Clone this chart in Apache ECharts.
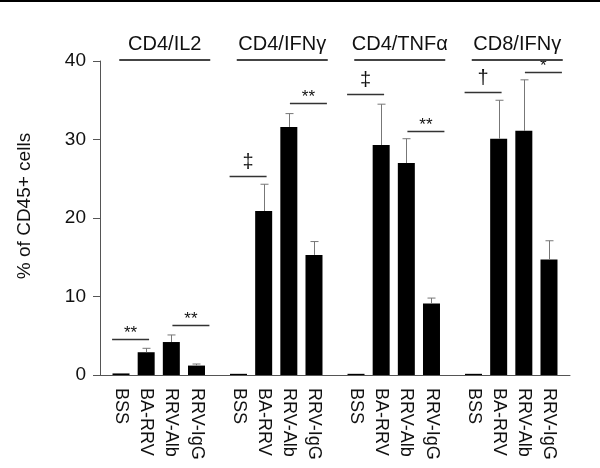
<!DOCTYPE html>
<html><head><meta charset="utf-8">
<script src="https://cdn.jsdelivr.net/npm/echarts@6/dist/echarts.min.js"></script>
<style>html,body{margin:0;padding:0;background:#fff}#c{width:600px;height:468px}</style>
</head><body><div id="c"></div>
<script>
// ---- data ----
const groups = ['CD4/IL2', 'CD4/IFNγ', 'CD4/TNFα', 'CD8/IFNγ'];
const conditions = ['BSS', 'BA-RRV', 'RRV-Alb', 'RRV-IgG'];
const bssMean    = [0.2, 0.15, 0.15, 0.15];
const baRrvMean  = [2.9, 20.9, 29.3, 30.1];
const rrvAlbMean = [4.2, 31.6, 27.0, 31.1];
const rrvIgGMean = [1.2, 15.3, 9.1, 14.7];
const bssErr     = [0, 0, 0, 0];
const baRrvErr   = [0.5, 3.4, 5.2, 4.9];
const rrvAlbErr  = [0.9, 1.7, 3.1, 6.5];
const rrvIgGErr  = [0.2, 1.7, 0.7, 2.4];
const yTicks = [0, 10, 20, 30, 40];
// significance brackets
const sigGroup = [0, 0, 1, 1, 2, 2, 3, 3];
const sigFrom  = [0, 2, 0, 2, 0, 2, 0, 2];
const sigTo    = [1, 3, 1, 3, 1, 3, 1, 3];
const sigLevel = [4.6, 6.4, 25.3, 34.7, 35.8, 31.1, 36.1, 38.6];
const sigMark  = ['**', '**', '‡', '**', '‡', '**', '†', '*'];

// ---- styles / layout ----
const FONT = 'Liberation Sans, Arial, sans-serif';
const BAR_W = 17, BAR_GAP = 0.48;
const BAR_STEP = BAR_W * (1 + BAR_GAP);
const means = [bssMean, baRrvMean, rrvAlbMean, rrvIgGMean];
const errs = [bssErr, baRrvErr, rrvAlbErr, rrvIgGErr];

const barSeries = conditions.map((name, j) => ({
  type: 'bar', name, xAxisIndex: 0, yAxisIndex: 0,
  data: means[j], barWidth: BAR_W, barGap: (BAR_GAP * 100) + '%',
  itemStyle: { color: '#000' },
  label: {
    show: true, position: 'bottom', distance: 13, rotate: -90,
    align: 'left', verticalAlign: 'middle',
    formatter: () => name, fontSize: 18, color: '#111', fontFamily: FONT
  }
}));

const errData = [];
groups.forEach((g, i) => conditions.forEach((c, j) => errData.push([i, j, means[j][i], errs[j][i]])));

const sigData = sigGroup.map((g, k) => [g, sigFrom[k], sigTo[k], sigLevel[k], k]);
const headData = groups.map((g, i) => [i, yTicks[yTicks.length - 1]]);

const option = {
  animation: false,
  backgroundColor: '#fff',
  graphic: [{ type: 'rect', left: 0, top: 0, shape: { width: 600, height: 2 }, style: { fill: '#000' } }],
  grid: { left: 100, right: 30, top: 61, bottom: 93, containLabel: false },
  xAxis: [{
    type: 'category', data: groups, position: 'bottom',
    axisLine: { lineStyle: { color: '#555', width: 1 } },
    axisTick: { alignWithLabel: true, length: 8, lineStyle: { color: '#555' } },
    axisLabel: { show: false }
  }, {
    type: 'category', data: groups, position: 'top',
    axisLine: { show: false }, axisTick: { show: false },
    axisLabel: { interval: 0, margin: 7, fontSize: 20, color: '#111', fontFamily: FONT, padding: [0, 0, 0, 12] }
  }],
  yAxis: {
    type: 'value', min: yTicks[0], max: yTicks[yTicks.length - 1], interval: 10,
    name: '% of CD45+ cells', nameLocation: 'middle', nameGap: 66, nameRotate: 90,
    nameTextStyle: { fontSize: 19, color: '#111', fontFamily: FONT, padding: [0, 0, 0, 24] },
    axisLine: { show: true, lineStyle: { color: '#555', width: 1 } },
    axisTick: { show: true, length: 7, lineStyle: { color: '#555' } },
    axisLabel: { fontSize: 19, color: '#111', fontFamily: FONT, margin: 14 },
    splitLine: { show: false }
  },
  series: barSeries.concat([{
    type: 'custom', xAxisIndex: 0, yAxisIndex: 0, clip: false, z: 5,
    encode: { x: 0, y: 2 },
    data: errData,
    renderItem: (params, api) => {
      const e = api.value(3);
      if (!e) return null;
      const base = api.coord([api.value(0), api.value(2)]);
      const top = api.coord([api.value(0), api.value(2) + e]);
      const x = Math.round(base[0] + (api.value(1) - 1.5) * BAR_STEP) + 0.5;
      const st = { stroke: '#777', lineWidth: 1 };
      return { type: 'group', children: [
        { type: 'line', shape: { x1: x, y1: base[1], x2: x, y2: top[1] }, style: st },
        { type: 'line', shape: { x1: x - 4, y1: top[1], x2: x + 4, y2: top[1] }, style: st }
      ] };
    }
  }, {
    type: 'custom', xAxisIndex: 0, yAxisIndex: 0, clip: false, z: 5,
    encode: { x: 0, y: 3 },
    data: sigData,
    renderItem: (params, api) => {
      const g = api.value(0), a = api.value(1), b = api.value(2), k = api.value(4);
      const p = api.coord([g, api.value(3)]);
      const mid = p[0] + ((a + b) / 2 - 1.5) * BAR_STEP + (a === 0 ? -3 : 7);
      const y = Math.round(p[1]) + 0.5;
      const mark = sigMark[k];
      const dagger = mark === '‡' || mark === '†';
      return { type: 'group', children: [
        { type: 'line', shape: { x1: mid - 18.5, y1: y, x2: mid + 18.5, y2: y }, style: { stroke: '#333', lineWidth: 1.5 } },
        { type: 'text', x: mid, y: y + (dagger ? -4 : 2),
          style: { text: mark, fill: '#111', fontSize: dagger ? 20 : 17, fontFamily: FONT, align: 'center', verticalAlign: 'bottom' } }
      ] };
    }
  }, {
    type: 'custom', xAxisIndex: 0, yAxisIndex: 0, clip: false, z: 5,
    encode: { x: 0, y: 1 },
    data: headData,
    renderItem: (params, api) => {
      const p = api.coord([api.value(0), api.value(1)]);
      const cx = p[0] + 6;
      const y = Math.round(p[1]) - 1;
      return { type: 'line', shape: { x1: cx - 45.5, y1: y, x2: cx + 45.5, y2: y }, style: { stroke: '#444', lineWidth: 2 } };
    }
  }])
};
const chart = echarts.init(document.getElementById('c'), null, { renderer: 'canvas' });
chart.setOption(option);
</script></body></html>
